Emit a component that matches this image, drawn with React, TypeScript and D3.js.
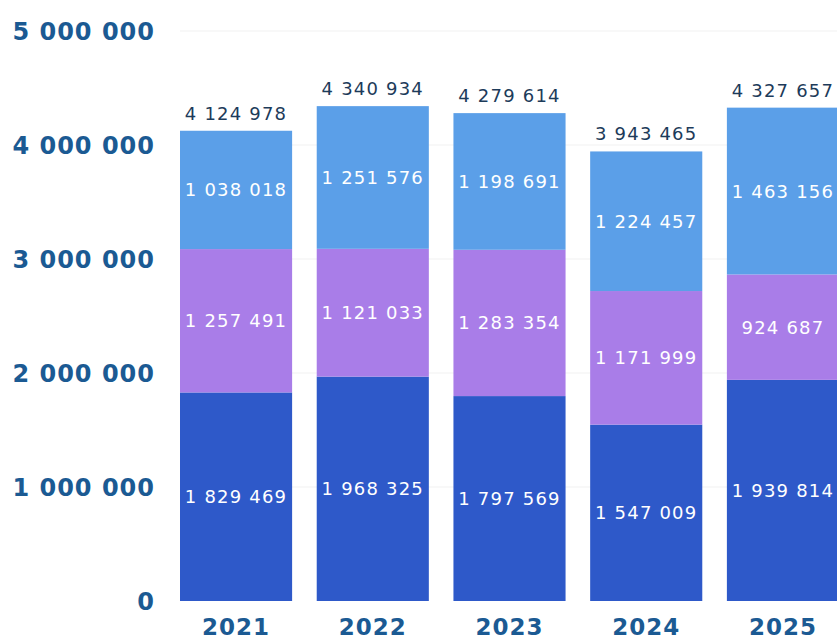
import { useEffect } from 'react';
import * as d3 from 'd3';

const years = ['2021', '2022', '2023', '2024', '2025'];
const seriesBottom = [1829469, 1968325, 1797569, 1547009, 1939814];
const seriesMiddle = [1257491, 1121033, 1283354, 1171999, 924687];
const seriesTop = [1038018, 1251576, 1198691, 1224457, 1463156];
const totals = [4124978, 4340934, 4279614, 3943465, 4327657];
const yTicks = [0, 1000000, 2000000, 3000000, 4000000, 5000000];

const colors = ['#2e59c9', '#a97de8', '#5b9fe8'];

const width = 837;
const height = 639;

const fmt = d3.formatLocale({
  decimal: ',',
  thousands: ' ',
  grouping: [3],
  currency: ['', ''],
}).format(',d');

const App = () => {
  useEffect(() => {
    document.body.style.margin = '0';
  }, []);

  const x = d3
    .scaleBand<string>()
    .domain(years)
    .range([180, 839])
    .paddingInner(0.18)
    .paddingOuter(0);

  const y = d3.scaleLinear().domain([0, 5000000]).range([601, 31]);

  const rows = years.map((year, i) => ({
    year,
    bottom: seriesBottom[i],
    middle: seriesMiddle[i],
    top: seriesTop[i],
  }));

  const stacked = d3
    .stack<{ year: string; bottom: number; middle: number; top: number }>()
    .keys(['bottom', 'middle', 'top'])(rows);

  return (
    <svg
      width={width}
      height={height}
      style={{ display: 'block', background: '#ffffff' }}
      fontFamily="'DejaVu Sans', sans-serif"
    >
      {/* faint grid */}
      {yTicks.slice(1).map((t) => (
        <line
          key={'g' + t}
          x1={180}
          x2={width}
          y1={y(t)}
          y2={y(t)}
          stroke='#f1f1f1'
          strokeWidth={1}
        />
      ))}

      {/* y axis labels */}
      {yTicks.map((t) => (
        <text
          key={'t' + t}
          x={155}
          y={y(t)}
          dy='0.36em'
          textAnchor='end'
          fontSize={24}
          fontWeight='bold'
          letterSpacing={1}
          fill='#1b5a93'
        >
          {fmt(t)}
        </text>
      ))}

      {/* stacked bars */}
      {stacked.map((layer, li) => (
        <g key={layer.key}>
          {layer.map((d) => {
            const yr = d.data.year;
            const x0 = x(yr) as number;
            const y0 = y(d[1]);
            const y1 = y(d[0]);
            return (
              <g key={yr}>
                <rect
                  x={x0}
                  y={y0}
                  width={x.bandwidth()}
                  height={y1 - y0}
                  fill={colors[li]}
                />
                <text
                  x={x0 + x.bandwidth() / 2}
                  y={(y0 + y1) / 2}
                  dy='0.36em'
                  textAnchor='middle'
                  fontSize={18}
                  letterSpacing={1.2}
                  fill='#ffffff'
                >
                  {fmt(d[1] - d[0])}
                </text>
              </g>
            );
          })}
        </g>
      ))}

      {/* totals */}
      {years.map((yr, i) => (
        <text
          key={'tot' + yr}
          x={(x(yr) as number) + x.bandwidth() / 2}
          y={y(totals[i]) - 11}
          textAnchor='middle'
          fontSize={18}
          letterSpacing={1.2}
          fill='#1d3b5a'
        >
          {fmt(totals[i])}
        </text>
      ))}

      {/* year labels */}
      {years.map((yr) => (
        <text
          key={'yr' + yr}
          x={(x(yr) as number) + x.bandwidth() / 2}
          y={627}
          dy='0.36em'
          textAnchor='middle'
          fontSize={23}
          fontWeight='bold'
          letterSpacing={1}
          fill='#1b5a93'
        >
          {yr}
        </text>
      ))}
    </svg>
  );
};

export default App;
